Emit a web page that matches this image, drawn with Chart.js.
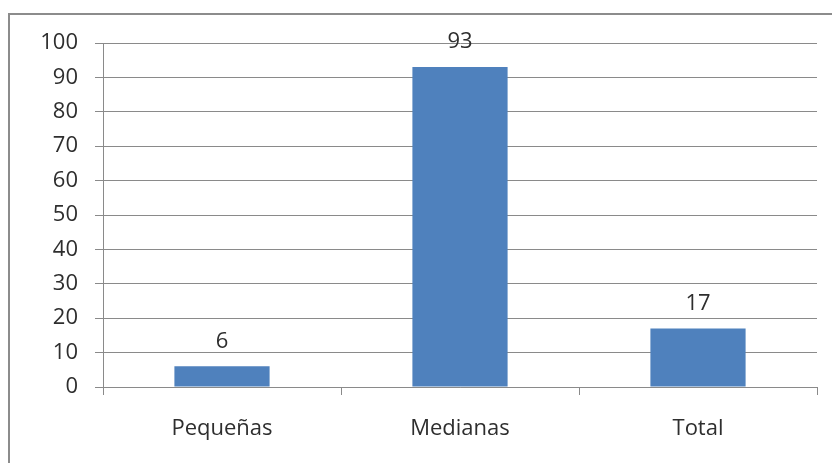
<!DOCTYPE html>
<html>
<head>
<meta charset="utf-8">
<script src="https://cdn.jsdelivr.net/npm/chart.js@4/dist/chart.umd.min.js"></script>
<style>
  html, body { margin: 0; padding: 0; background: #ffffff; }
  #wrap { width: 832px; height: 463px; position: relative; }
</style>
</head>
<body>
<div id="wrap"><canvas id="c" width="832" height="463"></canvas></div>
<script>
const categories = ['Pequeñas', 'Medianas', 'Total'];
const values = [6, 93, 17];
const yTicks = [0, 10, 20, 30, 40, 50, 60, 70, 80, 90, 100];

const FONT = "'Open Sans', 'DejaVu Sans', sans-serif";
const TEXT = '#2e2e2e';
const GRID = '#8a8a8a';

// Frame around the whole chart object
const framePlugin = {
  id: 'frame',
  beforeDraw(chart) {
    const ctx = chart.ctx;
    ctx.save();
    ctx.fillStyle = '#ffffff';
    ctx.fillRect(0, 0, chart.width, chart.height);
    ctx.strokeStyle = '#8c8c8c';
    ctx.lineWidth = 2;
    ctx.strokeRect(9, 14, chart.width + 20, chart.height + 20);
    ctx.restore();
  }
};

// Value labels above each bar
const valueLabels = {
  id: 'valueLabels',
  afterDatasetsDraw(chart) {
    const ctx = chart.ctx;
    const meta = chart.getDatasetMeta(0);
    ctx.save();
    ctx.font = '22px ' + FONT;
    ctx.fillStyle = TEXT;
    ctx.textAlign = 'center';
    ctx.textBaseline = 'middle';
    meta.data.forEach((bar, i) => {
      ctx.fillText(String(values[i]), bar.x, bar.y - 25);
    });
    ctx.restore();
  }
};

new Chart(document.getElementById('c'), {
  type: 'bar',
  data: {
    labels: categories,
    datasets: [{
      data: values,
      backgroundColor: '#4f81bd',
      borderWidth: 0,
      barPercentage: 0.4,
      categoryPercentage: 1.0
    }]
  },
  options: {
    responsive: false,
    animation: false,
    devicePixelRatio: 1,
    layout: { padding: { left: 0, right: 15, top: 43, bottom: 0 } },
    plugins: {
      legend: { display: false },
      tooltip: { enabled: false }
    },
    scales: {
      x: {
        offset: true,
        grid: {
          offset: true,
          drawOnChartArea: false,
          drawTicks: true,
          tickLength: 8,
          color: GRID,
          lineWidth: 1
        },
        border: { display: true, color: GRID, width: 1 },
        ticks: {
          color: TEXT,
          font: { family: FONT, size: 22 },
          padding: 21,
          maxRotation: 0
        },
        afterFit(scale) { scale.height = 76; }
      },
      y: {
        min: 0,
        max: 100,
        afterBuildTicks(scale) { scale.ticks = yTicks.map(v => ({ value: v })); },
        grid: {
          color: GRID,
          lineWidth: 1,
          drawTicks: true,
          tickLength: 8
        },
        border: { display: true, color: GRID, width: 1 },
        ticks: {
          color: TEXT,
          font: { family: FONT, size: 22 },
          padding: 17
        },
        afterFit(scale) { scale.width = 103; }
      }
    }
  },
  plugins: [framePlugin, valueLabels]
});
</script>
</body>
</html>
